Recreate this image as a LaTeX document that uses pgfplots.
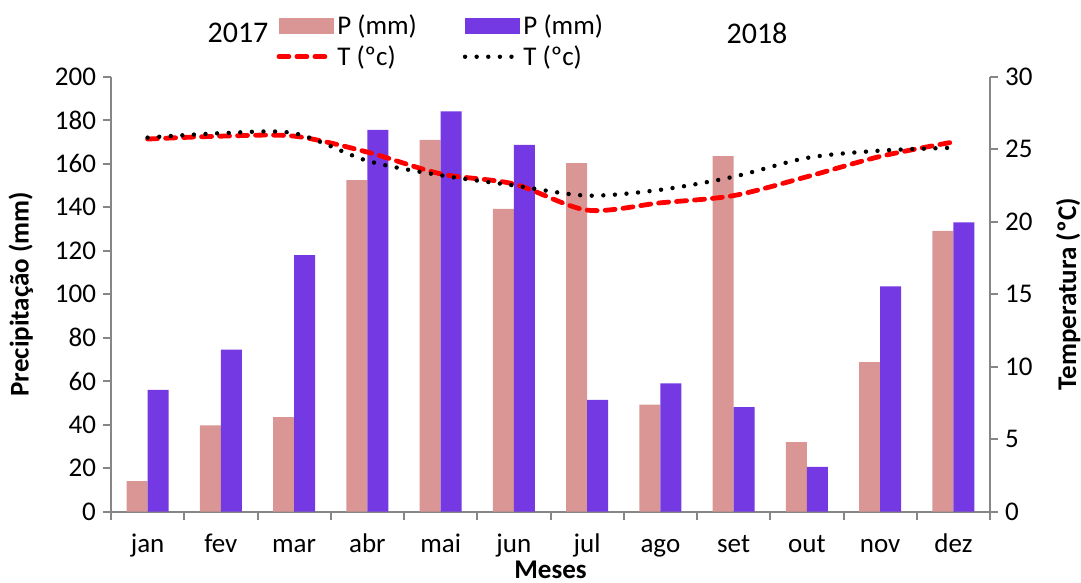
\documentclass[border=0pt]{standalone}
\usepackage{pgfplots}
\pgfplotsset{compat=1.18}
\usepackage{fontspec}
\setmainfont{Carlito}
\definecolor{pinkbar}{HTML}{D99694}
\definecolor{purplebar}{HTML}{7539E3}
\definecolor{axgray}{HTML}{868686}
\begin{document}
\begin{tikzpicture}[font=\fontsize{13.5}{16}\selectfont]
\begin{axis}[
  scale only axis, width=439.5pt, height=217.5pt,
  xmin=-0.5, xmax=11.5, ymin=0, ymax=200,
  ytick={0,20,...,200},
  xtick={0,...,11},
  xticklabels={jan,fev,mar,abr,mai,jun,jul,ago,set,out,nov,dez},
  xticklabel style={text height=1.6ex, text depth=0.3ex, yshift=-5pt},
  minor xtick={-0.5,0.5,...,11.5},
  major x tick style={draw=none},
  axis x line*=bottom, axis y line*=left,
  axis line style={axgray, line width=1pt, -},
  tick style={axgray, line width=1pt},
  tick align=outside,
  major tick length=4pt, minor tick length=4pt,
  ylabel={\textbf{Precipitação (mm)}},
  ylabel style={yshift=4pt},
  xlabel={\textbf{Meses}},
  xlabel style={yshift=4pt},
  /pgf/number format/assume math mode=true,
  clip=false,
]
\addplot[ybar, fill=pinkbar, draw=none, bar width=10.5pt, bar shift=-5.25pt] coordinates {
(0,14.1)(1,39.7)(2,43.5)(3,152.4)(4,171.0)(5,139.2)(6,160.3)(7,49.2)(8,163.5)(9,32.0)(10,68.8)(11,129.1)};
\addplot[ybar, fill=purplebar, draw=none, bar width=10.5pt, bar shift=5.25pt] coordinates {
(0,56.0)(1,74.5)(2,118.0)(3,175.5)(4,184.1)(5,168.6)(6,51.4)(7,59.0)(8,48.1)(9,20.6)(10,103.6)(11,133.0)};
\end{axis}
\begin{axis}[
  scale only axis, width=439.5pt, height=217.5pt,
  xmin=-0.5, xmax=11.5, ymin=0, ymax=30,
  ytick={0,5,...,30},
  axis y line*=right, axis x line=none,
  axis line style={axgray, line width=1pt, -},
  tick style={axgray, line width=1pt},
  tick align=outside, major tick length=4pt,
  ylabel={\textbf{Temperatura (ºC)}},
  ylabel style={yshift=-5pt},
  /pgf/number format/assume math mode=true,
  clip=false,
  legend columns=2,
  legend cell align=left,
  legend image code/.code={\draw[#1] (0pt,0pt) -- (25pt,0pt);},
  legend style={at={(rel axis cs:0.181,1.162)}, anchor=north west, draw=none, fill=none,
    /tikz/every even column/.append style={column sep=21pt}},
]
\addlegendimage{legend image code/.code={\fill[pinkbar] (0pt,-3.75pt) rectangle (27pt,3.75pt);}}
\addlegendimage{legend image code/.code={\fill[purplebar] (0pt,-3.75pt) rectangle (27pt,3.75pt);}}
\addplot[smooth, red, line width=2.4pt, dash pattern=on 5pt off 4pt, line cap=round] coordinates {
(0,25.7)(1,25.9)(2,25.9)(3,24.8)(4,23.3)(5,22.6)(6,20.8)(7,21.3)(8,21.8)(9,23.1)(10,24.5)(11,25.5)};
\addplot[smooth, black, line width=2.2pt, dash pattern=on 0pt off 5.8pt, line cap=round] coordinates {
(0,25.8)(1,26.1)(2,26.1)(3,24.2)(4,23.2)(5,22.5)(6,21.8)(7,22.2)(8,23.1)(9,24.4)(10,24.9)(11,25.1)};
\legend{P (mm), P (mm), T (ºc), T (ºc)}
\end{axis}
\node[font=\fontsize{15}{18}\selectfont] at (63.5pt,239.35pt) {2017};
\node[font=\fontsize{15}{18}\selectfont] at (323pt,239.35pt) {2018};
\pgfresetboundingbox
\path[use as bounding box] (-55.5pt,-35.65pt) rectangle (485pt,255.85pt);
\end{tikzpicture}
\end{document}
